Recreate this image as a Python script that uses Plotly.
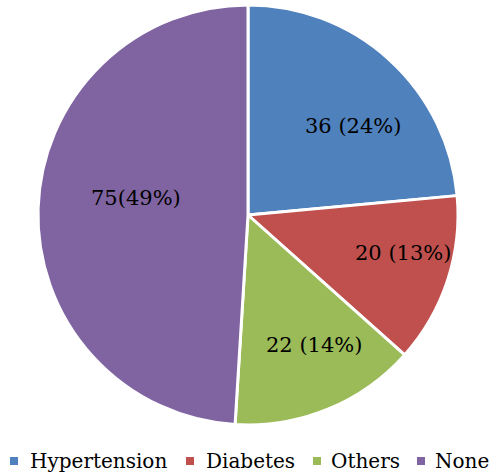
import plotly.graph_objects as go

categories = ["Hypertension", "Diabetes", "Others", "None"]
counts = [36, 20, 22, 75]
colors = ["#4F81BD", "#C0504D", "#9BBB59", "#8064A2"]

W, H = 491, 475
total = sum(counts)
slice_text = [f"{c} ({round(100 * c / total)}%)" for c in counts]
slice_text[3] = slice_text[3].replace(" ", "")

# label anchor points (pixels from top-left) for each slice
label_px = [(353, 126), (403, 253), (314, 345), (136, 198)]
# legend layout: square centre x, text left x, shared row y (pixels)
legend_sq_x = [14, 190, 317, 421]
legend_txt_x = [28, 204, 329, 433]
legend_y = 461
sq = 8

fig = go.Figure(
    go.Pie(
        labels=categories,
        values=counts,
        textinfo="none",
        sort=False,
        direction="clockwise",
        rotation=0,
        marker=dict(colors=colors, line=dict(color="white", width=3)),
        domain=dict(x=[38 / W, 458 / W], y=[1 - 425 / H, 1 - 5 / H]),
        hoverinfo="label+value+percent",
        showlegend=False,
    )
)

for txt, (px, py) in zip(slice_text, label_px):
    fig.add_annotation(
        x=px / W, y=1 - py / H, xref="paper", yref="paper",
        text=txt, showarrow=False, xanchor="center", yanchor="middle",
        font=dict(family="DejaVu Serif", size=21, color="black"),
    )

for name, col, sx, tx in zip(categories, colors, legend_sq_x, legend_txt_x):
    fig.add_shape(
        type="rect", xref="paper", yref="paper",
        x0=(sx - sq / 2) / W, x1=(sx + sq / 2) / W,
        y0=1 - (legend_y + sq / 2) / H, y1=1 - (legend_y - sq / 2) / H,
        fillcolor=col, line=dict(width=0),
    )
    fig.add_annotation(
        x=tx / W, y=1 - legend_y / H, xref="paper", yref="paper",
        text=name, showarrow=False, xanchor="left", yanchor="middle",
        font=dict(family="DejaVu Serif", size=20, color="black"),
    )

fig.update_layout(
    width=W,
    height=H,
    margin=dict(l=0, r=0, t=0, b=0),
    paper_bgcolor="white",
    plot_bgcolor="white",
)

fig.write_html("out.html")
